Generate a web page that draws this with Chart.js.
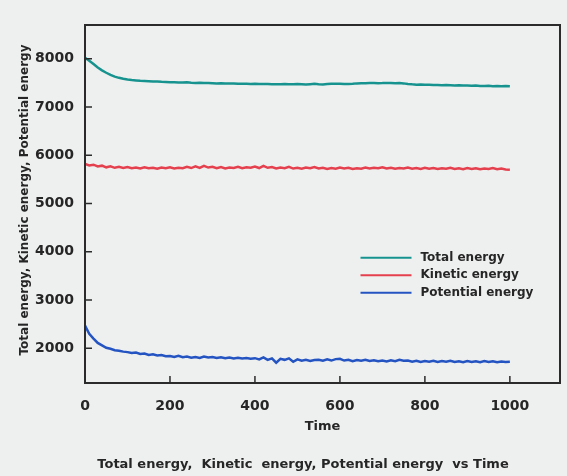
<!DOCTYPE html>
<html>
<head>
<meta charset="utf-8">
<script src="https://cdn.jsdelivr.net/npm/chart.js@4"></script>
<style>
  html, body { margin: 0; padding: 0; background: #eef0ef; }
  #wrap { width: 567px; height: 476px; }
</style>
</head>
<body>
<div id="wrap"><canvas id="energyChart" width="567" height="476"></canvas></div>
<script>
// time axis, sampled every 10 units
const times = [
    0, 10, 20, 30, 40, 50, 60, 70, 80, 90,
    100, 110, 120, 130, 140, 150, 160, 170, 180, 190,
    200, 210, 220, 230, 240, 250, 260, 270, 280, 290,
    300, 310, 320, 330, 340, 350, 360, 370, 380, 390,
    400, 410, 420, 430, 440, 450, 460, 470, 480, 490,
    500, 510, 520, 530, 540, 550, 560, 570, 580, 590,
    600, 610, 620, 630, 640, 650, 660, 670, 680, 690,
    700, 710, 720, 730, 740, 750, 760, 770, 780, 790,
    800, 810, 820, 830, 840, 850, 860, 870, 880, 890,
    900, 910, 920, 930, 940, 950, 960, 970, 980, 990,
    1000
];

const totalEnergy = [
    8020, 7960, 7890, 7820, 7760, 7710, 7665, 7630, 7605, 7585,
    7570, 7560, 7552, 7545, 7540, 7535, 7530, 7528, 7522, 7520,
    7515, 7512, 7510, 7508, 7512, 7505, 7500, 7502, 7498, 7500,
    7495, 7490, 7492, 7488, 7485, 7487, 7482, 7480, 7484, 7478,
    7480, 7476, 7478, 7475, 7472, 7474, 7470, 7475, 7472, 7470,
    7476, 7472, 7468, 7474, 7480, 7470, 7466, 7478, 7484, 7480,
    7482, 7478, 7476, 7482, 7490, 7494, 7492, 7496, 7498, 7494,
    7496, 7500, 7498, 7492, 7496, 7490, 7478, 7470, 7464, 7466,
    7460, 7462, 7456, 7458, 7452, 7455, 7450, 7446, 7450, 7444,
    7446, 7440, 7444, 7438, 7436, 7440, 7432, 7436, 7430, 7434,
    7428
];

const kineticEnergy = [
    5820, 5790, 5805, 5770, 5785, 5750, 5770, 5740, 5760, 5735,
    5755, 5730, 5745, 5725, 5750, 5730, 5740, 5720, 5745, 5730,
    5750, 5725, 5740, 5730, 5760, 5735, 5770, 5740, 5780, 5745,
    5760, 5730, 5755, 5725, 5745, 5735, 5760, 5730, 5750, 5740,
    5765, 5735, 5780, 5740, 5755, 5725, 5745, 5730, 5760, 5725,
    5740, 5720, 5745, 5730, 5755, 5725, 5740, 5715, 5735, 5720,
    5745, 5725, 5740, 5715, 5730, 5720, 5745, 5725, 5740, 5730,
    5750, 5725, 5740, 5720, 5735, 5725, 5745, 5720, 5735, 5715,
    5740, 5720, 5735, 5715, 5730, 5720, 5740, 5715, 5730, 5710,
    5735, 5715, 5730, 5710, 5725, 5715, 5735, 5710, 5725, 5705,
    5700
];

const potentialEnergy = [
    2470, 2300, 2200, 2110, 2060, 2010, 1990, 1960, 1950, 1930,
    1920, 1900, 1910, 1880, 1890, 1860, 1875, 1850, 1860, 1835,
    1840, 1820, 1845, 1815, 1830, 1805, 1820, 1800, 1830, 1810,
    1820, 1800, 1815, 1795, 1810, 1790, 1805, 1790, 1800, 1785,
    1795, 1770, 1810, 1760, 1790, 1700, 1780, 1760, 1790, 1720,
    1770, 1740, 1760, 1735, 1755, 1760, 1740, 1770, 1745, 1775,
    1780, 1745, 1760, 1730, 1755, 1740, 1760, 1735, 1750, 1730,
    1745, 1725, 1750, 1730, 1760, 1740, 1745, 1720, 1740, 1715,
    1735, 1720, 1740, 1715, 1735, 1720, 1740, 1715, 1730, 1710,
    1735, 1715, 1730, 1710, 1735, 1715, 1730, 1710, 1725, 1715,
    1720
];

const seriesLabels = ['Total energy', 'Kinetic energy', 'Potential energy'];
const seriesColors = ['#16938f', '#e5404e', '#2453c2'];
const xTicks = [0, 200, 400, 600, 800, 1000];
const yTicks = [2000, 3000, 4000, 5000, 6000, 7000, 8000];

const FONT = '"DejaVu Sans", sans-serif';
const INK = '#262626';

const toPoints = vals => vals.map((v, i) => ({ x: times[i], y: v }));

// frame, inward ticks, in-plot legend and the three titles
const decorPlugin = {
    id: 'decor',
    beforeDraw(chart) {
        const ctx = chart.ctx;
        ctx.save();
        ctx.fillStyle = '#eef0ef';
        ctx.fillRect(0, 0, chart.width, chart.height);
        ctx.restore();
    },
    afterDraw(chart) {
        const { ctx, chartArea: a, scales: { x, y } } = chart;
        ctx.save();
        ctx.strokeStyle = '#2b2b2b';
        ctx.lineWidth = 2;
        ctx.strokeRect(a.left, a.top, a.right - a.left, a.bottom - a.top);

        ctx.lineWidth = 1.5;
        ctx.beginPath();
        xTicks.forEach(v => {
            const px = x.getPixelForValue(v);
            ctx.moveTo(px, a.bottom);
            ctx.lineTo(px, a.bottom - 7);
        });
        yTicks.forEach(v => {
            const py = y.getPixelForValue(v);
            ctx.moveTo(a.left, py);
            ctx.lineTo(a.left + 7, py);
        });
        ctx.stroke();

        // legend
        const lx = a.left + (a.right - a.left) * 0.58;
        let ly = a.top + (a.bottom - a.top) * 0.65;
        ctx.font = 'bold 12px ' + FONT;
        ctx.textBaseline = 'middle';
        ctx.textAlign = 'left';
        chart.data.datasets.forEach(ds => {
            ctx.strokeStyle = ds.borderColor;
            ctx.lineWidth = 2;
            ctx.beginPath();
            ctx.moveTo(lx, ly);
            ctx.lineTo(lx + 51, ly);
            ctx.stroke();
            ctx.fillStyle = INK;
            ctx.fillText(ds.label, lx + 60, ly);
            ly += 17.5;
        });

        // axis titles
        ctx.fillStyle = INK;
        ctx.textAlign = 'center';
        ctx.font = 'bold 13px ' + FONT;
        ctx.fillText('Time', (a.left + a.right) / 2, 427);

        ctx.save();
        ctx.translate(25, 200);
        ctx.rotate(-Math.PI / 2);
        ctx.font = 'bold 12px ' + FONT;
        ctx.fillText('Total energy, Kinetic energy, Potential energy', 0, 0);
        ctx.restore();

        ctx.font = 'bold 13px ' + FONT;
        ctx.fillText('Total energy,  Kinetic  energy, Potential energy  vs Time', 303, 465);
        ctx.restore();
    }
};

const tickFont = { family: FONT, size: 14, weight: 'bold' };

new Chart(document.getElementById('energyChart'), {
    type: 'line',
    data: {
        datasets: [totalEnergy, kineticEnergy, potentialEnergy].map((vals, i) => ({
            label: seriesLabels[i],
            data: toPoints(vals),
            borderColor: seriesColors[i],
            borderWidth: 2.5,
            pointRadius: 0,
            tension: 0,
            fill: false
        }))
    },
    options: {
        responsive: false,
        animation: false,
        layout: { padding: { top: 25, right: 7, left: 0, bottom: 0 } },
        plugins: { legend: { display: false }, tooltip: { enabled: false } },
        scales: {
            x: {
                type: 'linear',
                min: 0,
                max: 1118,
                afterBuildTicks: s => { s.ticks = xTicks.map(v => ({ value: v })); },
                afterFit: s => { s.height = 93; },
                grid: { display: false },
                border: { display: false },
                ticks: { color: INK, padding: 7, font: tickFont, callback: v => String(v) }
            },
            y: {
                min: 1280,
                max: 8700,
                afterBuildTicks: s => { s.ticks = yTicks.map(v => ({ value: v })); },
                afterFit: s => { s.width = 85; },
                grid: { display: false },
                border: { display: false },
                ticks: { color: INK, padding: 3, font: tickFont, callback: v => String(v) }
            }
        }
    },
    plugins: [decorPlugin]
});
</script>
</body>
</html>
